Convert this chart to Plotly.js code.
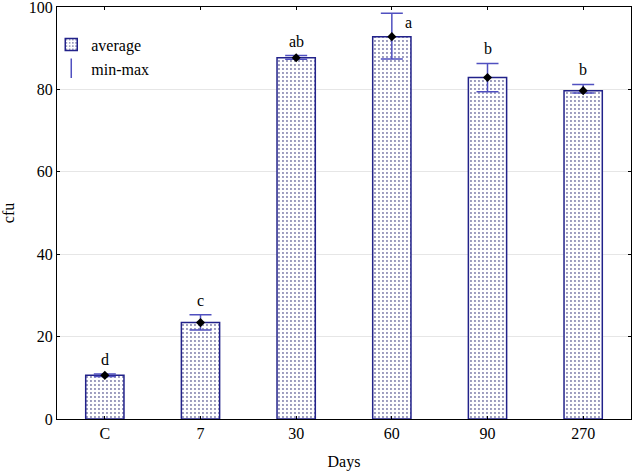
<!DOCTYPE html>
<html><head><meta charset="utf-8">
<script src="https://cdn.plot.ly/plotly-3.0.1.min.js"></script>
<style>html,body{margin:0;padding:0;background:#fff}</style>
</head><body><div id="chart" style="width:633px;height:473px"></div>
<script>
var categories = ["C", "7", "30", "60", "90", "270"];
var averages = [10.6, 23.4, 87.7, 92.8, 82.9, 79.7];
var minValues = [10.3, 21.6, 87.3, 87.4, 79.4, 79.1];
var maxValues = [10.9, 25.3, 88.2, 98.5, 86.3, 81.2];
var groupLetters = ["d", "c", "ab", "a", "b", "b"];
var yTicks = [0, 20, 40, 60, 80, 100];

var plus = maxValues.map(function(v,i){return v - averages[i];});
var minus = averages.map(function(v,i){return v - minValues[i];});

var font = {family: "'Liberation Serif', 'Times New Roman', serif", size: 16, color: "#000"};

var bars = {
  type: "bar", x: categories, y: averages, name: "average", width: 0.4,
  marker: {color: "white", line: {color: "#22228a", width: 1.5},
    pattern: {shape: ".", fgcolor: "#7a7aa8", bgcolor: "white", size: 4, solidity: 0.18}},
  showlegend: true, hoverinfo: "skip"
};
var means = {
  type: "scatter", mode: "markers", x: categories, y: averages, name: "mean",
  marker: {color: "black", size: 7, symbol: "diamond"},
  error_y: {type: "data", symmetric: false, array: plus, arrayminus: minus,
    color: "#5050c0", thickness: 1.5, width: 11},
  showlegend: false
};
var rangeKey = {
  type: "scatter", mode: "markers", x: [categories[0]], y: [null], name: "min-max",
  marker: {color: "#5050c0", size: 14, symbol: "line-ns-open", line: {color: "#5050c0", width: 1.5}},
  showlegend: true
};

var annotations = categories.map(function(c,i){
  var nearTop = maxValues[i] > 95;
  return {x: i, xref: "x", y: maxValues[i], text: groupLetters[i], showarrow: false,
    yanchor: nearTop ? "middle" : "bottom", yshift: nearTop ? -9 : 4, xshift: nearTop ? 17 : 0, font: font};
});

var layout = {
  width: 633, height: 473,
  margin: {l: 57, r: 2, t: 7, b: 54},
  paper_bgcolor: "white", plot_bgcolor: "white",
  font: font,
  showlegend: true,
  legend: {x: -0.01, y: 0.95, xanchor: "left", yanchor: "top", bgcolor: "rgba(0,0,0,0)",
    font: font, itemwidth: 30, tracegroupgap: 0},
  xaxis: {type: "category", categoryorder: "array", categoryarray: categories,
    title: {text: "Days", font: font, standoff: 14}, showline: true, linecolor: "#000", linewidth: 1,
    mirror: "ticks", ticks: "inside", ticklen: 3, tickcolor: "#000", showgrid: false, tickfont: font},
  yaxis: {title: {text: "cfu", font: font, standoff: 14}, range: [0, 100], tickmode: "array",
    tickvals: yTicks, ticktext: yTicks.map(String), ticklabeloverflow: "allow",
    showline: true, linecolor: "#000", linewidth: 1, mirror: "ticks", ticks: "inside", ticklen: 3,
    tickcolor: "#000", showgrid: true, gridcolor: "#e6e6e6", gridwidth: 1, zeroline: false, tickfont: font},
  annotations: annotations
};
Plotly.newPlot("chart", [bars, means, rangeKey], layout, {displayModeBar: false, staticPlot: true});
</script></body></html>
